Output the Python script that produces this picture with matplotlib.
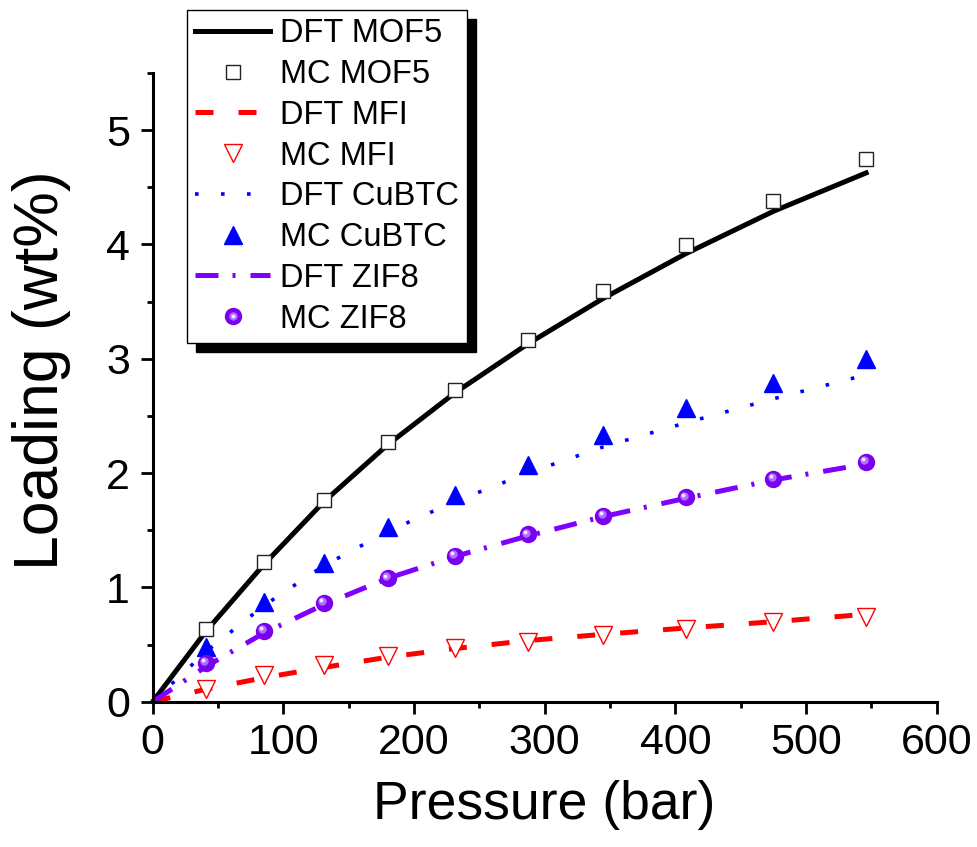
import matplotlib
matplotlib.use("Agg")
import matplotlib.pyplot as plt
from matplotlib.ticker import MultipleLocator
from matplotlib.transforms import offset_copy
from matplotlib.legend_handler import HandlerTuple

plt.rcParams['font.family'] = ['Liberation Sans', 'DejaVu Sans']

# DFT curves
p_dft = [0, 41, 85, 131, 180, 231, 287, 345, 408, 475, 546]
dft_mof5 = [0, 0.62, 1.20, 1.75, 2.25, 2.70, 3.13, 3.53, 3.92, 4.29, 4.626]
dft_mfi = [0, 0.11, 0.21, 0.30, 0.39, 0.465, 0.535, 0.59, 0.645, 0.70, 0.765]
dft_cubtc = [0, 0.44, 0.84, 1.19, 1.49, 1.75, 2.00, 2.23, 2.44, 2.65, 2.86]
dft_zif8 = [0, 0.31, 0.60, 0.85, 1.08, 1.27, 1.45, 1.62, 1.78, 1.94, 2.08]

# MC simulation points
p_mc = [41, 85, 131, 180, 231, 287, 345, 408, 475, 546]
mc_mof5 = [0.64, 1.225, 1.765, 2.27, 2.727, 3.164, 3.596, 3.996, 4.378, 4.748]
mc_mfi = [0.11, 0.23, 0.32, 0.40, 0.467, 0.525, 0.584, 0.636, 0.695, 0.74]
mc_cubtc = [0.48, 0.875, 1.216, 1.53, 1.81, 2.07, 2.333, 2.567, 2.786, 3.00]
mc_zif8 = [0.341, 0.621, 0.866, 1.08, 1.277, 1.464, 1.627, 1.788, 1.951, 2.095]

purple = '#8000FF'

fig = plt.figure(figsize=(9.77, 8.47), dpi=100)
ax = fig.add_axes([0.1563, 0.1715, 0.8024, 0.7423])

l1, = ax.plot(p_dft, dft_mof5, color='black', lw=3.6, clip_on=False, zorder=2)
m1, = ax.plot(p_mc, mc_mof5, ls='none', marker='s', ms=9.5, mfc='white',
              mec='#222222', mew=1.0, zorder=4)
l2, = ax.plot(p_dft, dft_mfi, color='red', lw=3.6, ls=(0, (3.6, 5.0)),
              clip_on=False, zorder=2)
m2, = ax.plot(p_mc, mc_mfi, ls='none', marker='v', ms=12.5, mfc='white',
              mec='red', mew=1.0, zorder=4)
l3, = ax.plot(p_dft, dft_cubtc, color='blue', lw=2.6, ls=(0, (1.0, 6.2)),
              clip_on=False, zorder=2)
m3, = ax.plot(p_mc, mc_cubtc, ls='none', marker='^', ms=12.5, color='blue',
              zorder=4)
l4, = ax.plot(p_dft, dft_zif8, color=purple, lw=3.6,
              ls=(0, (4.6, 2.8, 0.6, 3.0)), clip_on=False, zorder=2)
m4, = ax.plot(p_mc, mc_zif8, ls='none', marker='o', ms=11.5, color='#7A00F0',
              zorder=4)
# highlight on the spheres
hl = offset_copy(ax.transData, fig=fig, x=-1.3, y=1.3, units='points')
m4b, = ax.plot(p_mc, mc_zif8, ls='none', marker='o', ms=6, color='#B070FF',
               mec='none', transform=hl, zorder=5)
hl2 = offset_copy(ax.transData, fig=fig, x=-2.0, y=2.0, units='points')
m4c, = ax.plot(p_mc, mc_zif8, ls='none', marker='o', ms=2.8, color='#F4E8FF',
               mec='none', transform=hl2, zorder=6)

ax.set_xlim(0, 600)
ax.set_ylim(0, 5.5)
ax.xaxis.set_major_locator(MultipleLocator(100))
ax.xaxis.set_minor_locator(MultipleLocator(50))
ax.yaxis.set_major_locator(MultipleLocator(1))
ax.yaxis.set_minor_locator(MultipleLocator(0.5))

for side in ['top', 'right']:
    ax.spines[side].set_visible(False)
for side in ['left', 'bottom']:
    ax.spines[side].set_linewidth(2.2)

ax.tick_params(which='major', direction='out', length=8.5, width=2.0,
               labelsize=31)
ax.tick_params(which='minor', direction='out', length=4.3, width=2.0)
ax.tick_params(axis='x', which='major', pad=7)
ax.tick_params(axis='y', which='major', pad=8)

ax.set_xlabel('Pressure (bar)', fontsize=38.5, labelpad=12)
ax.set_ylabel('Loading (wt%)', fontsize=45)
ax.yaxis.set_label_coords(-0.104, 0.528)

leg = ax.legend([l1, m1, l2, m2, l3, m3, l4, (m4, m4b, m4c)],
                ['DFT MOF5', 'MC MOF5', 'DFT MFI', 'MC MFI', 'DFT CuBTC',
                 'MC CuBTC', 'DFT ZIF8', 'MC ZIF8'],
                handler_map={tuple: HandlerTuple(ndivide=1, pad=0)},
                loc='upper left', bbox_to_anchor=(0.1914, 0.9882),
                bbox_transform=fig.transFigure, fontsize=23.5, frameon=True,
                fancybox=False, edgecolor='black', framealpha=1,
                borderpad=0.25, labelspacing=0.3, handlelength=2.3,
                handletextpad=0.3, borderaxespad=0, numpoints=1,
                shadow={'ox': 6.5, 'oy': -6.5, 'facecolor': 'black',
                        'edgecolor': 'black', 'alpha': 1})
leg.get_frame().set_linewidth(1.0)
leg.set_zorder(10)

fig.savefig('out.png', dpi=100)
